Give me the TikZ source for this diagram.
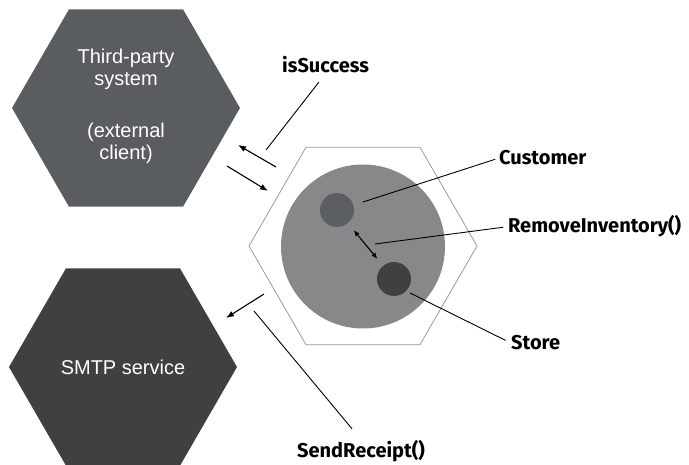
\documentclass[tikz,border=0pt]{standalone}
\usepackage{fontspec}
\setmainfont{Liberation Sans}
\newfontfamily\tagfont{Fira Sans}
\usetikzlibrary{positioning, arrows.meta, shapes.geometric}
\definecolor{clientgray}{HTML}{5A5D5F}
\definecolor{smtpgray}{HTML}{3F4042}
\definecolor{coregray}{HTML}{87888A}
\definecolor{custgray}{HTML}{5B5F61}
\definecolor{storegray}{HTML}{3E4042}
\definecolor{edgegray}{HTML}{9A9A9A}

\begin{document}
\begin{tikzpicture}[x=1pt, y=-1pt,
    hexa/.style={regular polygon, regular polygon sides=6, minimum size=228pt,
      inner sep=0pt},
    hextext/.style={text=white, align=center,
      font=\fontsize{20}{22}\selectfont},
    tag/.style={anchor=base west, inner sep=0pt,
      font=\tagfont\bfseries\fontsize{20}{22}\selectfont},
    dot/.style={circle, inner sep=0pt},
    arr/.style={-{Latex[length=8pt, width=6pt]}, line width=1.1pt},
    lead/.style={line width=0.9pt}]
  \useasboundingbox (0,0) rectangle (689,465);
  % outer actors
  \node[hexa, fill=clientgray] (client) at (126,108) {};
  \node[hextext] (clientname) at (126,106)
    {Third-party\\system\\[30pt](external\\client)};
  \node[hexa, fill=smtpgray] (smtp) at (123,367) {};
  \node[hextext] (smtpname) at (smtp.center) {SMTP service};
  % the application
  \node[hexa, draw=edgegray, line width=0.8pt] (app) at (363,246) {};
  \node[dot, fill=coregray, minimum size=164pt] (core) at (363,246.5) {};
  \node[dot, fill=custgray, minimum size=34pt] (cust) at (337,210) {};
  \node[dot, fill=storegray, minimum size=34pt] (store) at (394,279) {};
  \draw[arr, {Latex[length=6pt, width=5pt]}-{Latex[length=6pt, width=5pt]},
    shorten <=9pt, shorten >=9pt] (cust) -- (store);
  % labels
  \node[tag] (succtag) at (282,73) {isSuccess};
  \node[tag] (custtag) at (499,165) {Customer};
  \node[tag] (remtag) at (508,233) {RemoveInventory()};
  \node[tag] (storetag) at (511,350) {Store};
  \node[tag] (sendtag) at (297,457) {SendReceipt()};
  \coordinate (succpt) at (266,150);
  \coordinate (custpt) at (363,202);
  \coordinate (rempt) at (375,244);
  \coordinate (storept) at (410,293);
  \coordinate (sendpt) at (254,311);
  \draw[lead, shorten <=11pt] (succtag.south) -- (succpt);
  \draw[lead, shorten <=4pt] (custtag.west) -- (custpt);
  \draw[lead, shorten <=5pt] (remtag.west) -- (rempt);
  \draw[lead, shorten <=6pt] (storetag.west) -- (storept);
  \draw[lead, shorten <=14pt] (sendtag.north) -- (sendpt);
  % calls in and out
  \coordinate (retfrom) at (276,167);
  \coordinate (retto) at (238,145);
  \coordinate (callfrom) at (227,166);
  \coordinate (callto) at (268,191);
  \coordinate (mailfrom) at (264,294);
  \coordinate (mailto) at (226,318);
  \draw[arr] (retfrom) -- (retto);
  \draw[arr] (callfrom) -- (callto);
  \draw[arr] (mailfrom) -- (mailto);
\end{tikzpicture}
\end{document}
